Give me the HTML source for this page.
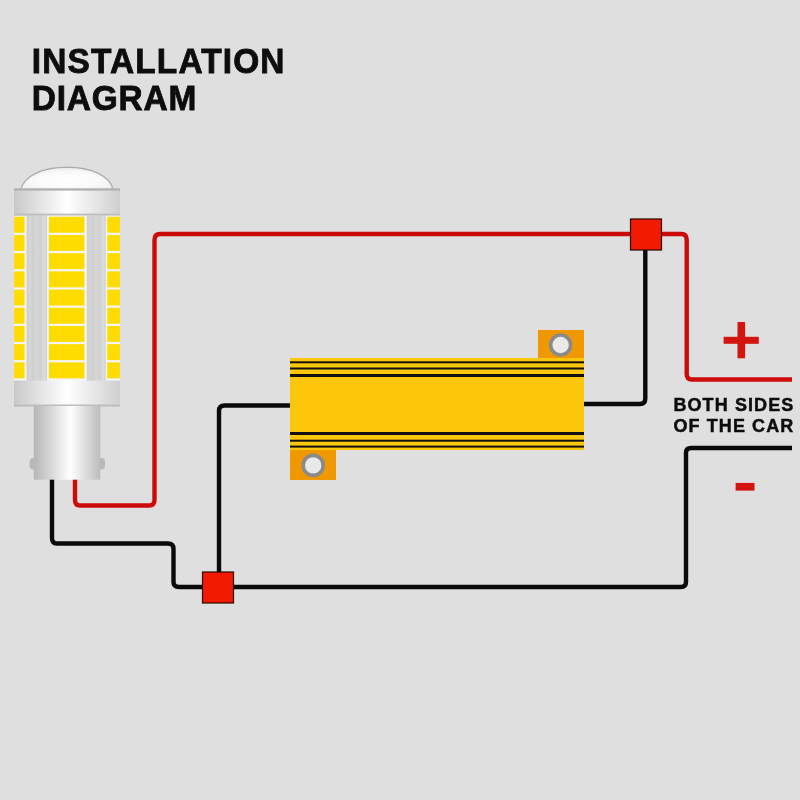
<!DOCTYPE html>
<html><head><meta charset="utf-8">
<style>
html,body{margin:0;padding:0;background:#dfdfdf;width:800px;height:800px;overflow:hidden;}
svg{display:block;position:absolute;left:0;top:0;will-change:transform;}
.t{font-family:"Liberation Sans",sans-serif;font-weight:bold;fill:#0d0d0d;stroke:#0d0d0d;}
</style></head><body>
<svg width="800" height="800" viewBox="0 0 800 800">
<defs>
  <linearGradient id="gBand" x1="0" y1="0" x2="1" y2="0">
    <stop offset="0" stop-color="#c9c9c9"/>
    <stop offset="0.5" stop-color="#ffffff"/>
    <stop offset="1" stop-color="#cfcfcf"/>
  </linearGradient>
  <linearGradient id="gBase" x1="0" y1="0" x2="1" y2="0">
    <stop offset="0" stop-color="#b5b5b5"/>
    <stop offset="0.55" stop-color="#ffffff"/>
    <stop offset="1" stop-color="#bcbcbc"/>
  </linearGradient>
  <linearGradient id="gRib" x1="0" y1="0" x2="1" y2="0">
    <stop offset="0" stop-color="#cdcdcd"/>
    <stop offset="0.15" stop-color="#d6d6d6"/>
    <stop offset="0.3" stop-color="#cfcfcf"/>
    <stop offset="0.5" stop-color="#d6d6d6"/>
    <stop offset="0.7" stop-color="#d0d0d0"/>
    <stop offset="0.85" stop-color="#dddddd"/>
    <stop offset="1" stop-color="#d2d2d2"/>
  </linearGradient>
  <radialGradient id="gDome" cx="0.5" cy="0.6" r="0.6">
    <stop offset="0" stop-color="#ffffff"/>
    <stop offset="0.6" stop-color="#fafafa"/>
    <stop offset="1" stop-color="#ececec"/>
  </radialGradient>
</defs>

<!-- title -->
<text class="t" transform="translate(31.8,73.2) scale(0.94,1)" font-size="35.6" letter-spacing="1.2" style="stroke-width:0.85">INSTALLATION</text>
<text class="t" transform="translate(31.8,109.9) scale(0.94,1)" font-size="35.6" letter-spacing="0.85" style="stroke-width:0.85">DIAGRAM</text>

<!-- wires -->
<g fill="none" stroke-width="4.4" stroke-linejoin="round">
  <!-- red top wire -->
  <path d="M75 478 V500 Q75 505.5 80 505.5 H149 Q154.5 505.5 154.5 500 V240 Q154.5 234 160 234 H681.5 Q686.7 234 686.7 240 V374 Q686.7 379.5 692 379.5 H792" stroke="#cc0a0a"/>
  <!-- black from bulb -->
  <path d="M52 478 V538 Q52 543.5 57 543.5 H168 Q173.5 543.5 173.5 549 V582 Q173.5 587 179 587 H681 Q686 587 686 582 V453 Q686 448 691 448 H792" stroke="#0a0a0a"/>
  <!-- black vertical to resistor left -->
  <path d="M219 587 V411 Q219 405.5 224.5 405.5 H292" stroke="#0a0a0a"/>
  <!-- black resistor right to top square -->
  <path d="M582 404 H640 Q645.3 404 645.3 398.5 V240" stroke="#0a0a0a"/>
</g>

<!-- junction squares -->
<rect x="630.5" y="219" width="31" height="31" fill="#f21a00" stroke="#2a0800" stroke-width="1.2"/>
<rect x="202.5" y="572" width="31" height="31" fill="#f21a00" stroke="#2a0800" stroke-width="1.2"/>

<!-- resistor -->
<rect x="538" y="330" width="46" height="28" fill="#ef9800"/>
<circle cx="560.6" cy="345" r="10" fill="#e9e9e9" stroke="#8a8a8a" stroke-width="3.6"/>
<rect x="290" y="450" width="46" height="30" fill="#ef9800"/>
<circle cx="313.2" cy="465.4" r="10" fill="#e9e9e9" stroke="#8a8a8a" stroke-width="3.6"/>
<rect x="290" y="358" width="294" height="92" fill="#fcc60a"/>
<rect x="290" y="361.3" width="294" height="2" fill="#111"/>
<rect x="290" y="367.5" width="294" height="2" fill="#111"/>
<rect x="290" y="374" width="294" height="3" fill="#111"/>
<rect x="290" y="432" width="294" height="3" fill="#111"/>
<rect x="290" y="439.7" width="294" height="2" fill="#111"/>
<rect x="290" y="445.6" width="294" height="2" fill="#111"/>

<!-- bulb -->
<g id="bulb">
  <!-- dome -->
  <path d="M20.8 189.5 C 24 176, 42 167.3, 67 167.3 C 92 167.3, 110 176, 113.2 189.5 Z" fill="url(#gDome)" stroke="#adadad" stroke-width="1.4"/>
  <!-- body background -->
  <rect x="14" y="215" width="106" height="166" fill="#f5f5f7"/>
  <rect x="26.5" y="215" width="20.5" height="166" fill="url(#gRib)"/>
  <rect x="86.8" y="215" width="19" height="166" fill="url(#gRib)"/>
  <!-- top band -->
  <rect x="14" y="188.5" width="106" height="27" fill="url(#gBand)"/>
  <rect x="14" y="188.4" width="106" height="2.2" fill="#b0b0b0"/>
  <rect x="14" y="213.6" width="106" height="1.9" fill="#bdbdbd"/>
  <!-- bottom band -->
  <rect x="14" y="380.5" width="106" height="26" fill="url(#gBand)"/>
  <rect x="14" y="404.5" width="106" height="2" fill="#bdbdbd"/>
  <!-- base -->
  <rect x="29.6" y="458" width="8" height="11.4" rx="4" fill="#b8b8b8"/>
  <rect x="97" y="458" width="8" height="11.4" rx="4" fill="#b8b8b8"/>
  <rect x="33.8" y="406" width="66.5" height="73.7" fill="url(#gBase)"/>
  <g id="leds" fill="#fedc00"><rect x="14.1" y="216.75" width="10.50" height="16"/><rect x="48.9" y="216.75" width="35.60" height="16"/><rect x="107.25" y="216.75" width="12.75" height="16"/><rect x="14.1" y="234.95" width="10.50" height="16"/><rect x="48.9" y="234.95" width="35.60" height="16"/><rect x="107.25" y="234.95" width="12.75" height="16"/><rect x="14.1" y="253.15" width="10.50" height="16"/><rect x="48.9" y="253.15" width="35.60" height="16"/><rect x="107.25" y="253.15" width="12.75" height="16"/><rect x="14.1" y="271.35" width="10.50" height="16"/><rect x="48.9" y="271.35" width="35.60" height="16"/><rect x="107.25" y="271.35" width="12.75" height="16"/><rect x="14.1" y="289.55" width="10.50" height="16"/><rect x="48.9" y="289.55" width="35.60" height="16"/><rect x="107.25" y="289.55" width="12.75" height="16"/><rect x="14.1" y="307.75" width="10.50" height="16"/><rect x="48.9" y="307.75" width="35.60" height="16"/><rect x="107.25" y="307.75" width="12.75" height="16"/><rect x="14.1" y="325.95" width="10.50" height="16"/><rect x="48.9" y="325.95" width="35.60" height="16"/><rect x="107.25" y="325.95" width="12.75" height="16"/><rect x="14.1" y="344.15" width="10.50" height="16"/><rect x="48.9" y="344.15" width="35.60" height="16"/><rect x="107.25" y="344.15" width="12.75" height="16"/><rect x="14.1" y="362.35" width="10.50" height="16"/><rect x="48.9" y="362.35" width="35.60" height="16"/><rect x="107.25" y="362.35" width="12.75" height="16"/></g>
</g>

<!-- labels -->
<rect x="723.6" y="336.8" width="35.2" height="7" fill="#d4150f"/>
<rect x="737.5" y="322" width="7.6" height="36.3" fill="#d4150f"/>
<rect x="735.6" y="482.9" width="18.9" height="7.7" fill="#d4150f"/>
<text class="t" transform="translate(673.4,410.6)" font-size="18" letter-spacing="1.1" style="stroke-width:0.45">BOTH SIDES</text>
<text class="t" transform="translate(673.4,432)" font-size="18" letter-spacing="1.1" style="stroke-width:0.45">OF THE CAR</text>
</svg>
</body></html>
